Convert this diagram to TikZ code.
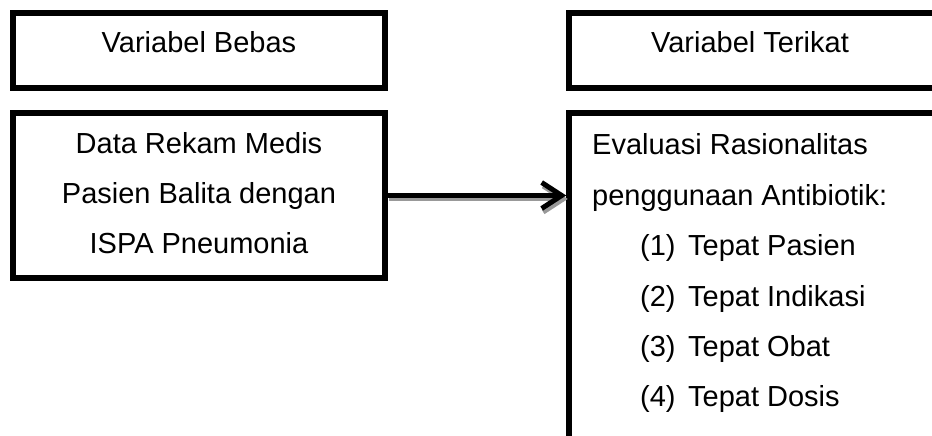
\documentclass[tikz,border=0pt]{standalone}
\usepackage{fontspec}
\setmainfont{Liberation Sans}
\usetikzlibrary{arrows.meta}
\begin{document}
\begin{tikzpicture}[x=1pt,y=1pt,
  box/.style={draw=black, line width=5.5pt, rectangle, inner sep=0pt},
  txt/.style={inner sep=0pt, font=\fontsize{29}{34}\selectfont},
  conn/.style={line width=5pt, -{Straight Barb[length=20pt,width=26pt]}},
  shadowconn/.style={conn, draw=black!40, transform canvas={shift={(1.5pt,-3.5pt)}}}]
\useasboundingbox (0,0) rectangle (932,436);
\clip (0,0) rectangle (932,436);
% boxes
\node[box, minimum width=372pt, minimum height=75pt] (A) at (199,385.5) {};
\node[box, minimum width=372pt, minimum height=165pt] (B) at (199,240.5) {};
\node[box, minimum width=367pt, minimum height=75pt] (C) at (752.5,385.5) {};
\node[box, minimum width=367pt, minimum height=347pt] (D) at (752.5,149.5) {};
% texts
\node[txt, anchor=base] (ta) at (199,383) {Variabel Bebas};
\node[txt, anchor=base] (tc) at (750,383) {Variabel Terikat};
\node[txt, anchor=base] (b1) at (199,282) {Data Rekam Medis};
\node[txt, anchor=base] (b2) at (199,232) {Pasien Balita dengan};
\node[txt, anchor=base] (b3) at (199,182) {ISPA Pneumonia};
\node[txt, anchor=base west] (d1) at (592,281) {Evaluasi Rasionalitas};
\node[txt, anchor=base west] (d2) at (592,230.6) {penggunaan Antibiotik:};
\node[txt, anchor=base west] (n1) at (640,180.2) {(1)};
\node[txt, anchor=base west] (e1) at (688,180.2) {Tepat Pasien};
\node[txt, anchor=base west] (n2) at (640,129.8) {(2)};
\node[txt, anchor=base west] (e2) at (688,129.8) {Tepat Indikasi};
\node[txt, anchor=base west] (n3) at (640,79.4) {(3)};
\node[txt, anchor=base west] (e3) at (688,79.4) {Tepat Obat};
\node[txt, anchor=base west] (n4) at (640,29) {(4)};
\node[txt, anchor=base west] (e4) at (688,29) {Tepat Dosis};
% connector with shadow
\coordinate (dIn) at (B.east -| D.west);
\draw[shadowconn] (B.east) -- (dIn);
\draw[conn] (B.east) -- (dIn);
\end{tikzpicture}
\end{document}
